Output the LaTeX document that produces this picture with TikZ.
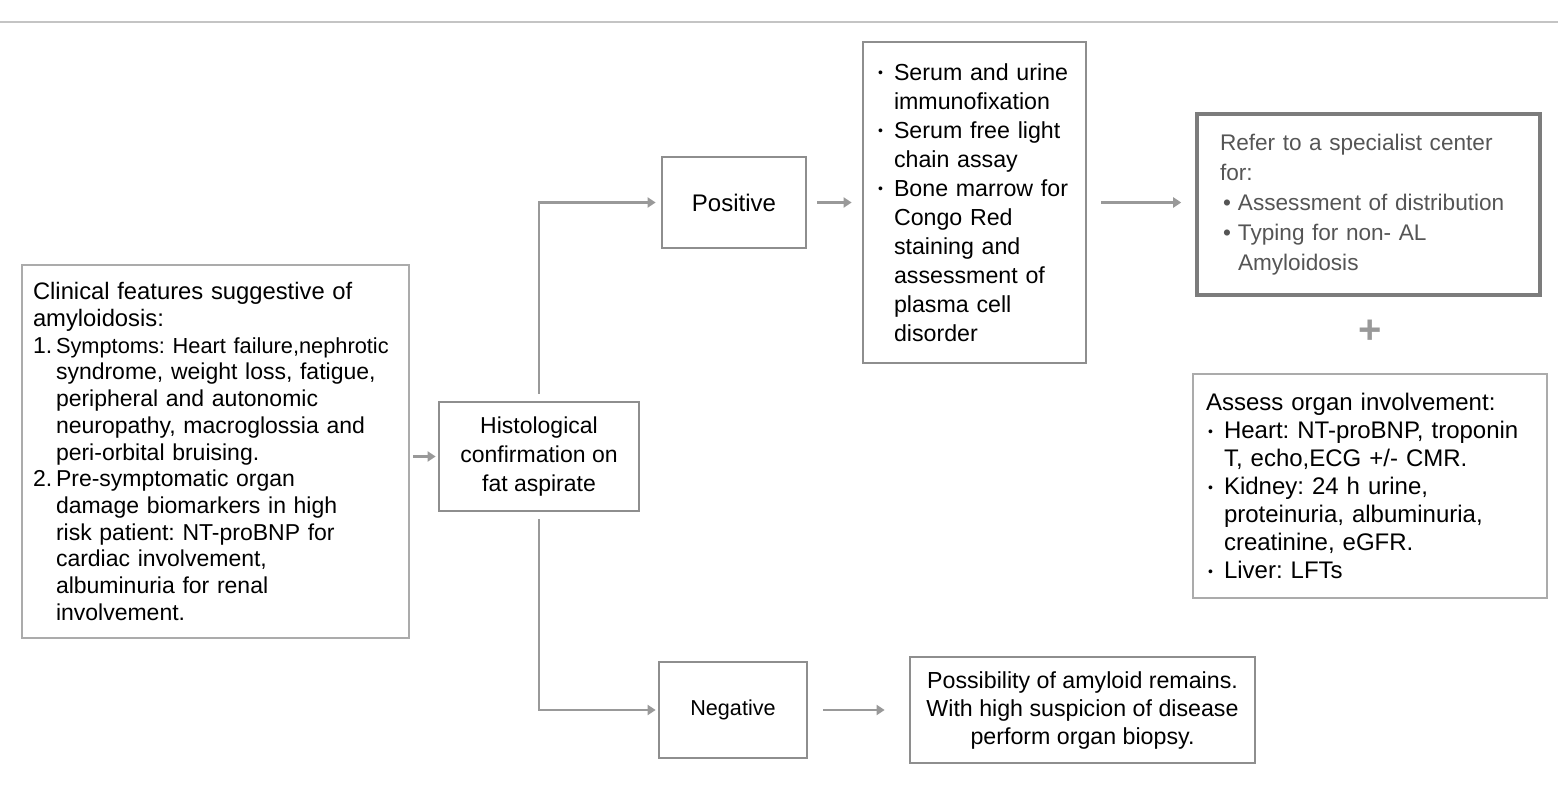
\documentclass[tikz,border=0pt]{standalone}
\usepackage{fontspec}
\setmainfont{Liberation Sans}
\usetikzlibrary{arrows.meta}
\definecolor{FlowLine}{HTML}{999999}
\definecolor{FlowBox}{HTML}{8E8E8E}
\definecolor{FlowLight}{HTML}{ABABAB}
\definecolor{FlowDark}{HTML}{7C7C7C}
\definecolor{FlowText}{HTML}{555555}
\definecolor{FlowRule}{HTML}{C4C4C4}
\frenchspacing
\hyphenpenalty=10000
% list helpers
\newcommand{\numitem}[1]{\makebox[11.5pt][l]{#1}}
\newcommand{\subline}{\hspace*{11.5pt}}
\newcommand{\dotitem}{\makebox[9pt][l]{\hspace*{1pt}\raisebox{1.2pt}{\scriptsize\textbullet}}}
\newcommand{\subdot}{\hspace*{9pt}}
\newcommand{\refitem}{\makebox[9pt][l]{\hspace*{1.5pt}\textbullet}}
\newcommand{\subref}{\hspace*{9pt}}

\begin{document}
\begin{tikzpicture}[
    x=0.5pt, y=-0.5pt,
    flowbox/.style={draw=FlowBox, line width=1.4pt, fill=white, inner sep=0pt},
    lightbox/.style={flowbox, draw=FlowLight},
    darkbox/.style={flowbox, draw=FlowDark, line width=1.8pt},
    arrow/.style={-{Triangle[length=4pt,width=5pt]}, line width=1.3pt, draw=FlowLine}
]
\useasboundingbox (0,0) rectangle (1558,798);
\draw[FlowRule, line width=1pt] (0,22) -- (1558,22);

\node[lightbox, minimum width=193.5pt, minimum height=186.5pt, text width=182.5pt,
      align=left, font=\fontsize{11.5}{13.35}\selectfont] (clin) at (215.5,451.5)
  {{\fontsize{11.9}{13.35}\selectfont Clinical features suggestive of}\\
   {\fontsize{11.9}{13.35}\selectfont amyloidosis:}\\
   \mbox{\numitem{1.}\fontsize{10.9}{13.35}\selectfont Symptoms: Heart failure,nephrotic}\\
   \subline syndrome, weight loss, fatigue,\\
   \subline peripheral and autonomic\\
   \subline neuropathy, macroglossia and\\
   \subline peri-orbital bruising.\\
   \numitem{2.}Pre-symptomatic organ\\
   \subline damage biomarkers in high\\
   \subline risk patient: NT-proBNP for\\
   \subline cardiac involvement,\\
   \subline albuminuria for renal\\
   \subline involvement.};
\node[flowbox, minimum width=100pt, minimum height=54.5pt, align=center,
      font=\fontsize{11.5}{14.5}\selectfont] (histo) at (539,456.5)
  {Histological\\confirmation on\\fat aspirate};
\node[flowbox, minimum width=72pt, minimum height=45.5pt,
      font=\fontsize{12}{14}\selectfont] (pos) at (734,202.5) {Positive};
\node[flowbox, minimum width=111.5pt, minimum height=160.5pt, text width=98.5pt,
      align=left, font=\fontsize{11.6}{14.5}\selectfont] (tests) at (974.5,202.5)
  {\dotitem Serum and urine\\
   \subdot immunofixation\\
   \dotitem Serum free light\\
   \subdot chain assay\\
   \dotitem Bone marrow for\\
   \subdot Congo Red\\
   \subdot staining and\\
   \subdot assessment of\\
   \subdot plasma cell\\
   \subdot disorder};
\node[darkbox, minimum width=171.5pt, minimum height=90.5pt, text width=148.5pt,
      align=left, text=FlowText, font=\fontsize{11.3}{15}\selectfont] (refer) at (1368.5,204.5)
  {Refer to a specialist center\\
   for:\\
   \refitem Assessment of distribution\\
   \refitem Typing for non- AL\\
   \subref Amyloidosis};
\node[text=FlowLine, font=\fontsize{20}{20}\selectfont\bfseries] (plus) at (1370,332) {+};
\node[lightbox, minimum width=177pt, minimum height=112pt, text width=164pt,
      align=left, font=\fontsize{12}{14}\selectfont] (organs) at (1370,486)
  {Assess organ involvement:\\
   \dotitem Heart: NT-proBNP, troponin\\
   \subdot T, echo,ECG +/- CMR.\\
   \dotitem Kidney: 24 h urine,\\
   \subdot proteinuria, albuminuria,\\
   \subdot creatinine, eGFR.\\
   \dotitem Liver: LFTs};
\node[flowbox, minimum width=74pt, minimum height=48pt,
      font=\fontsize{10.8}{13}\selectfont] (neg) at (733,710) {Negative};
\node[flowbox, minimum width=172.5pt, minimum height=53pt, align=center,
      font=\fontsize{11.6}{14}\selectfont] (maybe) at (1082.5,710)
  {Possibility of amyloid remains.\\
   With high suspicion of disease\\
   perform organ biopsy.};

\draw[arrow, shorten <=1.5pt, shorten >=1pt] (clin.east |- histo.west) -- (histo.west);
\draw[arrow, shorten <=3.5pt, shorten >=2.5pt] (histo.north) |- (pos.west);
\draw[arrow, shorten <=3.5pt, shorten >=1pt] (histo.south) |- (neg.west);
\draw[arrow, shorten <=5pt, shorten >=5pt] (pos.east) -- (tests.west);
\draw[arrow, shorten <=7pt, shorten >=7pt] (tests.east) -- (tests.east -| refer.west);
\draw[arrow, shorten <=7.5pt, shorten >=12pt] (neg.east) -- (maybe.west);
\end{tikzpicture}
\end{document}
